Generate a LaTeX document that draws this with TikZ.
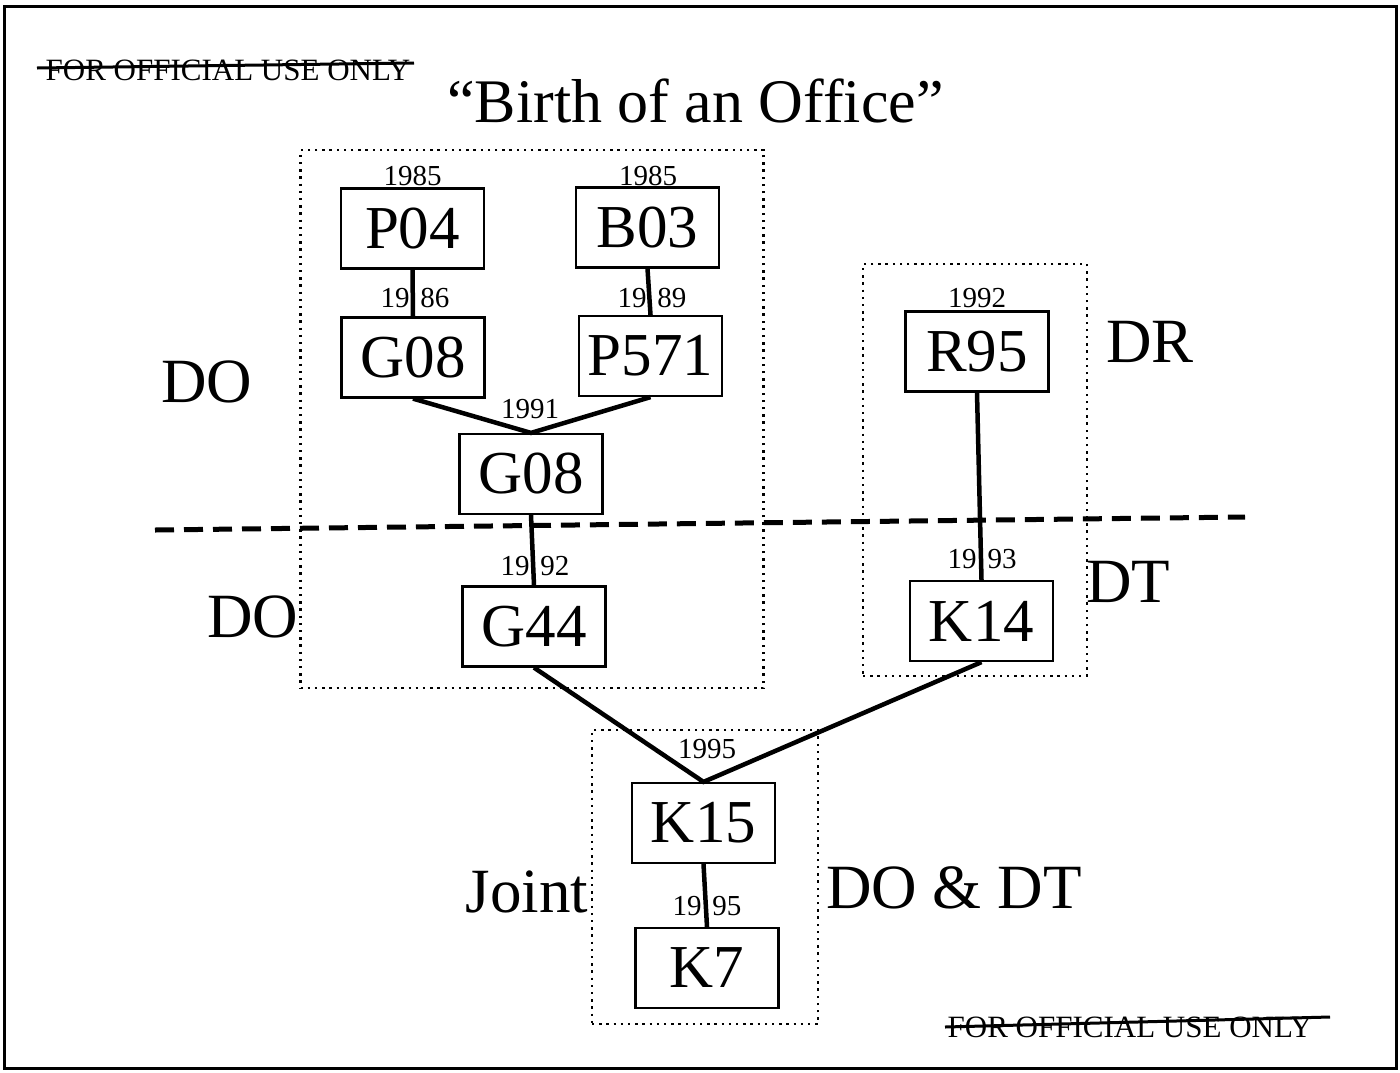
\documentclass[tikz,border=0pt]{standalone}
\usepackage{fontspec}
\setmainfont{Liberation Serif}
\begin{document}
\begin{tikzpicture}[x=1pt,y=-1pt,
  office/.style={draw, line width=2.2pt, minimum width=143pt, minimum height=80pt, inner sep=0pt, font=\fontsize{61}{61}\selectfont},
  year/.style={anchor=base, inner sep=0pt, font=\fontsize{29}{29}\selectfont},
  dept/.style={anchor=base, inner sep=0pt, font=\fontsize{63}{63}\selectfont},
  link/.style={line width=4.5pt},
  group/.style={line width=2.4pt, dash pattern=on 2.4pt off 4.8pt},
  stamp/.style={anchor=base, inner sep=0pt, font=\fontsize{31}{31}\selectfont},
  strike/.style={line width=3pt}]
\useasboundingbox (0,0) rectangle (1400,1072);
\fill[white] (0,0) rectangle (1400,1072);
\draw[line width=3pt] (4,6) rectangle (1396,1068);

% stamps and title
\node[stamp] (stampTop) at (228,80) {FOR OFFICIAL USE ONLY};
\coordinate (stA) at (37,68);
\coordinate (stB) at (414,63);
\draw[strike] (stA) -- (stB);
\node[stamp] (stampBot) at (1130,1037) {FOR OFFICIAL USE ONLY};
\coordinate (sbA) at (945,1027);
\coordinate (sbB) at (1330,1017);
\draw[strike] (sbA) -- (sbB);
\node[anchor=base, inner sep=0pt, font=\fontsize{62}{62}\selectfont] (title) at (695.5,122) {“Birth of an Office”};

% group boxes
\node[group, draw, minimum width=463pt, minimum height=538pt, inner sep=0pt] (grpDO) at (532,419) {};
\node[group, draw, minimum width=224pt, minimum height=412pt, inner sep=0pt] (grpDR) at (975,470) {};
\node[group, draw, minimum width=226pt, minimum height=294pt, inner sep=0pt] (grpJ) at (705,877) {};

% divider
\coordinate (divL) at (155,530);
\coordinate (divR) at (1245,517);
\draw[line width=5pt, dash pattern=on 19pt off 10pt] (divL) -- (divR);

% offices
\node[office] (P04) at (412.5,228.5) {P04};
\node[office] (B03) at (647.5,227.5) {B03};
\node[office] (G08a) at (413,357.5) {G08};
\node[office] (P571) at (650.5,356) {P571};
\node[office] (G08b) at (531,474) {G08};
\node[office] (G44) at (534,626.5) {G44};
\node[office] (R95) at (977,351.5) {R95};
\node[office] (K14) at (981.5,621) {K14};
\node[office] (K15) at (703.5,823) {K15};
\node[office] (K7) at (707,968) {K7};

% years
\node[year] (y1) at (412.5,185) {1985};
\node[year] (y2) at (648,185) {1985};
\node[year] (y3) at (415,307) {19\hspace{11pt}86};
\node[year] (y4) at (652,307) {19\hspace{11pt}89};
\node[year] (y5) at (530,418) {1991};
\node[year] (y6) at (977,307) {1992};
\node[year] (y7) at (982,568) {19\hspace{11pt}93};
\node[year] (y8) at (535,575) {19\hspace{11pt}92};
\node[year] (y9) at (707,758) {1995};
\node[year] (y10) at (707,915) {19\hspace{11pt}95};

% department labels
\node[dept] (dDO1) at (207,402) {DO};
\node[dept] (dDO2) at (253,637) {DO};
\node[dept] (dDR) at (1150,362) {DR};
\node[dept] (dDT) at (1128,602) {DT};
\node[dept] (dJoint) at (527,912) {Joint};
\node[dept] (dDODT) at (954,908) {DO \& DT};

% links
\draw[link] (P04.south) -- (G08a.north);
\draw[link] (B03.south) -- (P571.north);
\draw[link] (G08a.south) -- (G08b.north) -- (P571.south);
\draw[link] (G08b.south) -- (G44.north);
\draw[link] (R95.south) -- (K14.north);
\draw[link] (G44.south) -- (K15.north) -- (K14.south);
\draw[link] (K15.south) -- (K7.north);
\end{tikzpicture}
\end{document}
